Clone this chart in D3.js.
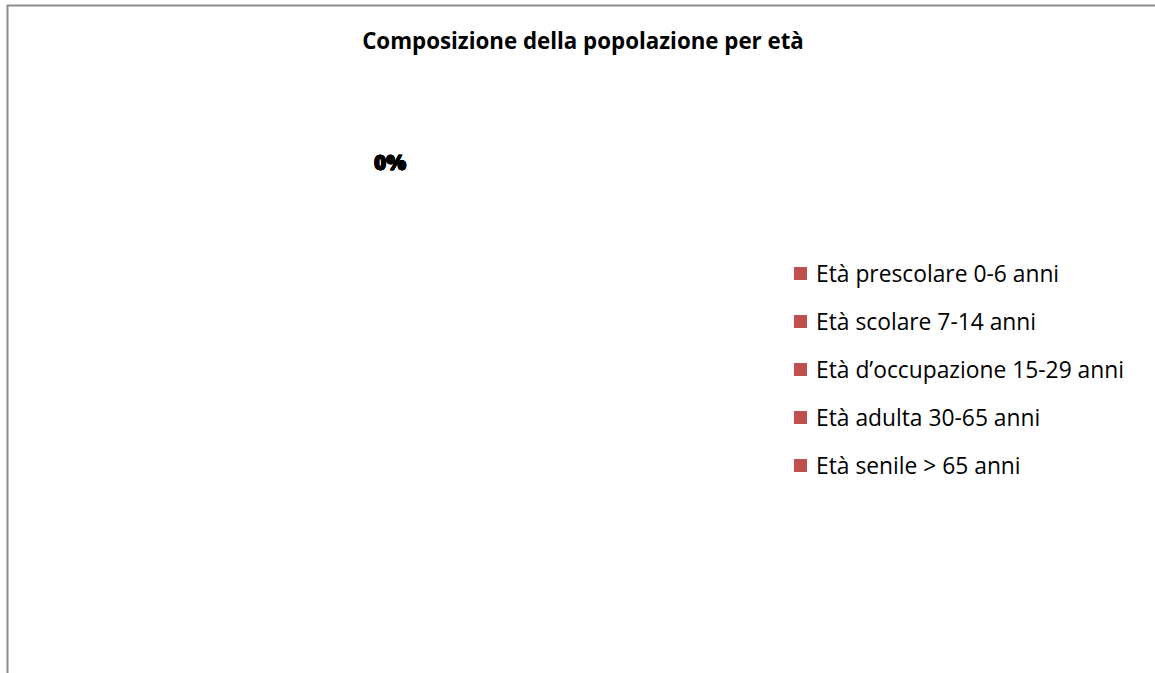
<!DOCTYPE html>
<html>
<head>
<meta charset="utf-8">
<script src="https://cdn.jsdelivr.net/npm/d3@7"></script>
<style>
  html, body { margin: 0; padding: 0; background: #fff; }
  svg { display: block; }
  text { font-family: "Open Sans", Lato, "DejaVu Sans", sans-serif; }
</style>
</head>
<body>
<svg id="chart" width="1155" height="673"></svg>
<script>
// Age groups and their population counts (no data recorded: all zero)
const categories = [
  "Età prescolare 0-6 anni",
  "Età scolare 7-14 anni",
  "Età d\u2019occupazione 15-29 anni",
  "Età adulta 30-65 anni",
  "Età senile > 65 anni"
];
const values = [0, 0, 0, 0, 0];
const sliceColors = ["#C0504D", "#C0504D", "#C0504D", "#C0504D", "#C0504D"];
const title = "Composizione della popolazione per età";

const W = 1155, H = 673;
const svg = d3.select("#chart");

// chart frame
svg.append("path")
  .attr("d", `M7.5,${H + 2} V5.5 H${W + 2}`)
  .attr("fill", "none")
  .attr("stroke", "#8c8c8c")
  .attr("stroke-width", 2);

// title
svg.append("text")
  .attr("x", 583)
  .attr("y", 49)
  .attr("text-anchor", "middle")
  .attr("font-weight", "bold")
  .attr("font-size", 22.3)
  .attr("fill", "#000")
  .text(title);

// pie
const cx = 390, cy = 378, radius = 200;
const total = d3.sum(values);
const pie = d3.pie().sort(null).value(d => d.value);
const arcs = pie(categories.map((c, i) => ({ name: c, value: values[i], color: sliceColors[i] })));
const arc = d3.arc().innerRadius(0).outerRadius(radius);
const labelArc = d3.arc().innerRadius(radius + 8).outerRadius(radius + 8);

const g = svg.append("g").attr("transform", `translate(${cx},${cy})`);
g.selectAll("path.slice")
  .data(arcs)
  .join("path")
  .attr("class", "slice")
  .attr("d", arc)
  .attr("fill", d => d.data.color)
  .attr("stroke", "#fff");

// percentage labels (all zero slices stack at the top of the pie)
const pct = d3.format(".0%");
g.selectAll("text.pct")
  .data(arcs)
  .join("text")
  .attr("class", "pct")
  .attr("transform", d => {
    const [x, y] = labelArc.centroid(d);
    return `translate(${x},${y})`;
  })
  .attr("text-anchor", "middle")
  .attr("font-weight", "800")
  .attr("font-size", 21)
  .attr("fill", "#000")
  .attr("stroke", "#000")
  .attr("stroke-width", 0.5)
  .text(d => pct(total > 0 ? d.value / total : 0));

// legend
const legend = svg.append("g").attr("transform", "translate(794,274)");
const rowStep = 48;
const rows = legend.selectAll("g.item")
  .data(categories)
  .join("g")
  .attr("class", "item")
  .attr("transform", (d, i) => `translate(0,${i * rowStep})`);
rows.append("rect")
  .attr("x", 0).attr("y", -7)
  .attr("width", 13).attr("height", 13)
  .attr("fill", (d, i) => sliceColors[i]);
rows.append("text")
  .attr("x", 22)
  .attr("y", 7.5)
  .attr("font-size", 22.8)
  .attr("fill", "#000")
  .text(d => d);
</script>
</body>
</html>
